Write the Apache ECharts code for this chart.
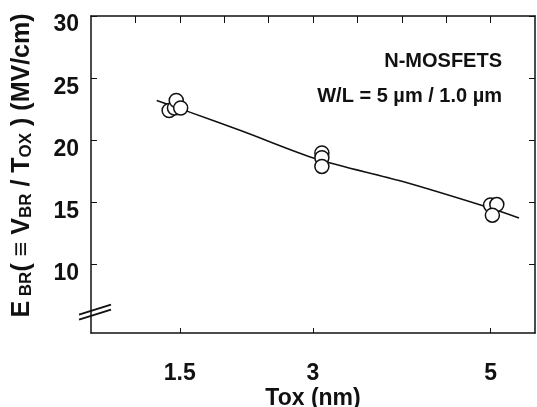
<!DOCTYPE html>
<html>
<head>
<meta charset="utf-8">
<script src="https://cdn.jsdelivr.net/npm/echarts@6/dist/echarts.min.js"></script>
<style>
  html, body { margin: 0; padding: 0; background: #fff; }
  #chart { width: 537px; height: 407px; }
</style>
</head>
<body>
<div id="chart"></div>
<script>
// measured points (Tox nm, E_BR MV/cm)
const pointsX = [1.38, 1.44, 1.46, 1.51, 3.1, 3.1, 3.1, 5.0, 5.07, 5.02];
const pointsY = [22.4, 22.6, 23.2, 22.6, 18.98, 18.6, 17.9, 14.8, 14.83, 13.98];
// fitted curve
const fitX = [1.24, 1.58, 2.2, 3.04, 4.0, 4.95, 5.32];
const fitY = [23.2, 22.35, 20.75, 18.5, 16.7, 14.65, 13.75];
// ticks
const xLabels = [1.5, 3, 5];
const xTopTicks = [1, 1.5, 2, 2.5, 3, 3.5, 4, 4.5, 5];
const yLabels = [10, 15, 20, 25, 30];
const breakAt = 6.3;

const font = 'Liberation Sans, Arial, sans-serif';
const black = '#111';
const noteStyle = { fontFamily: font, fontWeight: 'bold', fontSize: 20, color: black };

let chart = echarts.init(document.getElementById('chart'));

chart.setOption({
    animation: false,
    title: [
        { text: 'N-MOSFETS', right: 30, top: 46, textStyle: noteStyle },
        { text: 'W/L = 5 µm / 1.0 µm', right: 30, top: 81, textStyle: noteStyle }
    ],
    grid: { left: 91, right: 2, top: 16, bottom: 74, outerBoundsMode: 'none' },
    xAxis: [
        {
            type: 'value', min: 0.5, max: 5.5, position: 'bottom',
            name: 'Tox (nm)', nameLocation: 'middle', nameGap: 54, nameMoveOverlap: false,
            nameTextStyle: { fontFamily: font, fontWeight: 'bold', fontSize: 23, color: black },
            axisLine: { lineStyle: { color: black, width: 1.5 } },
            axisTick: { inside: true, length: 5, customValues: xLabels, lineStyle: { color: black } },
            axisLabel: { customValues: xLabels, margin: 29, fontFamily: font, fontWeight: 'bold', fontSize: 23, color: black },
            splitLine: { show: false }
        },
        {
            type: 'value', min: 0.5, max: 5.5, position: 'top',
            axisLine: { lineStyle: { color: black, width: 1.5 } },
            axisTick: { inside: true, length: 7, customValues: xTopTicks, lineStyle: { color: black } },
            axisLabel: { show: false },
            splitLine: { show: false }
        }
    ],
    yAxis: [
        {
            type: 'value', min: 4.5, max: 30, position: 'left',
            name: '{b|E}{s| BR}{b|( ≡ V}{s|BR}{b| / T}{s|OX}{b| ) (MV/cm)}',
            nameLocation: 'middle', nameGap: 56, nameRotate: 90, nameMoveOverlap: false,
            nameTextStyle: {
                padding: [0, 0, 0, 18],
                rich: {
                    b: { fontFamily: font, fontWeight: 'bold', fontSize: 25, color: black, verticalAlign: 'bottom' },
                    s: { fontFamily: font, fontWeight: 'bold', fontSize: 17, color: black, verticalAlign: 'bottom' }
                }
            },
            axisLine: { lineStyle: { color: black, width: 1.5 } },
            axisTick: { inside: true, length: 6, customValues: yLabels, lineStyle: { color: black } },
            axisLabel: { customValues: yLabels, margin: 12, verticalAlign: 'top', lineHeight: 18, fontFamily: font, fontWeight: 'bold', fontSize: 23, color: black },
            splitLine: { show: false }
        },
        {
            type: 'value', min: 4.5, max: 30, position: 'right',
            axisLine: { lineStyle: { color: black, width: 1.5 } },
            axisTick: { inside: true, length: 6, customValues: yLabels, lineStyle: { color: black } },
            axisLabel: { show: false },
            splitLine: { show: false }
        }
    ],
    series: [
        {
            type: 'line',
            data: fitX.map((x, i) => [x, fitY[i]]),
            smooth: 0.3,
            showSymbol: false,
            lineStyle: { color: black, width: 1.5 },
            z: 2
        },
        {
            type: 'scatter',
            data: pointsX.map((x, i) => [x, pointsY[i]]),
            symbol: 'circle',
            symbolSize: 14,
            itemStyle: { color: '#fff', borderColor: black, borderWidth: 1.5, opacity: 1 },
            z: 3
        }
    ]
});

// axis break mark "//" on the left axis
const p = chart.convertToPixel({ xAxisIndex: 0, yAxisIndex: 0 }, [0.5, breakAt]);
chart.setOption({
    graphic: [0, 1].map(k => ({
        type: 'line',
        shape: { x1: p[0] - 12, y1: p[1] + 4 + k * 5, x2: p[0] + 20, y2: p[1] - 6 + k * 5 },
        style: { stroke: black, lineWidth: 2 },
        z: 10
    }))
});
</script>
</body>
</html>
